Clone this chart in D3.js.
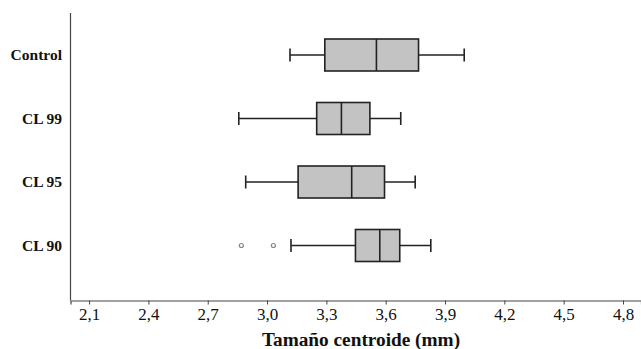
<!DOCTYPE html>
<html>
<head>
<meta charset="utf-8">
<script src="https://cdn.jsdelivr.net/npm/d3@7"></script>
<style>
  body { margin: 0; background: #fff; }
  svg { display: block; }
</style>
</head>
<body>
<svg id="chart"></svg>
<script>
const width = 641;
const height = 349;

// box plot summaries
const categories = ["Control", "CL 99", "CL 95", "CL 90"];
const whiskerLow = [3.116, 2.857, 2.892, 3.121];
const q1 = [3.292, 3.251, 3.157, 3.447];
const median = [3.553, 3.376, 3.428, 3.570];
const q3 = [3.766, 3.520, 3.594, 3.671];
const whiskerHigh = [3.997, 3.676, 3.749, 3.828];
const outliers = [[], [], [], [2.870, 3.032]];
const xTicks = [2.1, 2.4, 2.7, 3.0, 3.3, 3.6, 3.9, 4.2, 4.5, 4.8];

const serif = "'Liberation Serif', 'DejaVu Serif', serif";

const svg = d3.select("#chart")
  .attr("width", width)
  .attr("height", height);

const plotLeft = 70.5, plotRight = 641, plotTop = 13, plotBottom = 300.5;

const x = d3.scaleLinear()
  .domain([2.006, 4.891])
  .range([plotLeft, plotRight]);

const y = d3.scalePoint()
  .domain(categories)
  .range([55, 245.5]);

const boxH = 32;
const capH = 13;

// axes lines
svg.append("line")
  .attr("x1", plotLeft).attr("x2", plotLeft)
  .attr("y1", plotTop).attr("y2", plotBottom)
  .attr("stroke", "#444").attr("stroke-width", 1.2);

const xAxis = svg.append("g")
  .attr("transform", `translate(0,${plotBottom})`)
  .call(d3.axisBottom(x)
    .tickValues(xTicks)
    .tickSize(4)
    .tickPadding(3)
    .tickFormat(d => d3.format(".1f")(d).replace(".", ",")));

xAxis.attr("font-family", null);
xAxis.select(".domain").attr("stroke", "#444").attr("stroke-width", 1.2);
xAxis.selectAll(".tick line").attr("stroke", "#444");
xAxis.selectAll(".tick text")
  .attr("fill", "#111")
  .style("font-family", serif)
  .style("font-size", "17px");

// category labels
svg.append("g").selectAll("text")
  .data(categories)
  .join("text")
  .attr("x", 62)
  .attr("y", d => y(d))
  .attr("dy", "0.35em")
  .attr("text-anchor", "end")
  .style("font-family", serif)
  .style("font-size", "15.5px")
  .style("font-weight", "bold")
  .attr("fill", "#111")
  .text(d => d);

// x title
svg.append("text")
  .attr("x", 361)
  .attr("y", 346)
  .attr("text-anchor", "middle")
  .style("font-family", serif)
  .style("font-size", "19.3px")
  .style("font-weight", "bold")
  .attr("fill", "#111")
  .text("Tamaño centroide (mm)");

const boxes = svg.append("g").selectAll("g")
  .data(categories)
  .join("g");

const stroke = "#222";
const sw = 1.6;

// whiskers
boxes.append("line")
  .attr("x1", (d, i) => x(whiskerLow[i]))
  .attr("x2", (d, i) => x(whiskerHigh[i]))
  .attr("y1", d => y(d)).attr("y2", d => y(d))
  .attr("stroke", stroke).attr("stroke-width", sw);

boxes.append("line")
  .attr("x1", (d, i) => x(whiskerLow[i]))
  .attr("x2", (d, i) => x(whiskerLow[i]))
  .attr("y1", d => y(d) - capH / 2).attr("y2", d => y(d) + capH / 2)
  .attr("stroke", stroke).attr("stroke-width", sw);

boxes.append("line")
  .attr("x1", (d, i) => x(whiskerHigh[i]))
  .attr("x2", (d, i) => x(whiskerHigh[i]))
  .attr("y1", d => y(d) - capH / 2).attr("y2", d => y(d) + capH / 2)
  .attr("stroke", stroke).attr("stroke-width", sw);

// box
boxes.append("rect")
  .attr("x", (d, i) => x(q1[i]))
  .attr("width", (d, i) => x(q3[i]) - x(q1[i]))
  .attr("y", d => y(d) - boxH / 2)
  .attr("height", boxH)
  .attr("fill", "#c3c3c3")
  .attr("stroke", stroke).attr("stroke-width", sw);

// median
boxes.append("line")
  .attr("x1", (d, i) => x(median[i]))
  .attr("x2", (d, i) => x(median[i]))
  .attr("y1", d => y(d) - boxH / 2).attr("y2", d => y(d) + boxH / 2)
  .attr("stroke", stroke).attr("stroke-width", sw);

// outliers
boxes.each(function(d, i) {
  d3.select(this).selectAll("circle")
    .data(outliers[i])
    .join("circle")
    .attr("cx", v => x(v))
    .attr("cy", y(d))
    .attr("r", 2)
    .attr("fill", "#fff")
    .attr("stroke", "#888")
    .attr("stroke-width", 1.2);
});
</script>
</body>
</html>
